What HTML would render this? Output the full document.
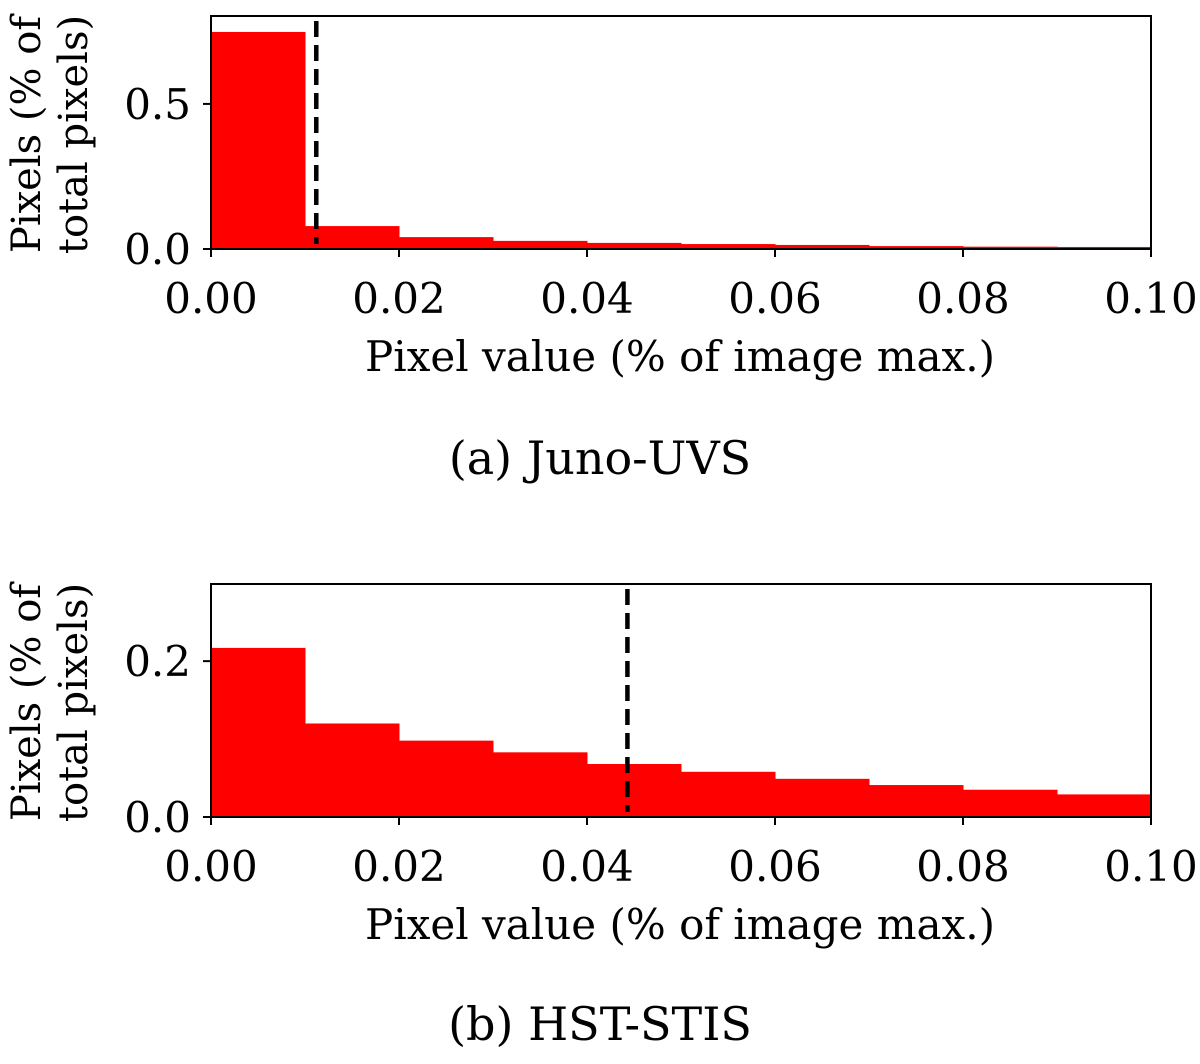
<!DOCTYPE html>
<html><head><meta charset="utf-8"><style>
body{margin:0;background:#fff}
svg text{font-family:"DejaVu Serif","Liberation Serif",serif;fill:#000}
</style></head><body>
<svg id="s" width="1200" height="1059" viewBox="0 0 1200 1059" xmlns="http://www.w3.org/2000/svg"></svg>
<script>
const binEdges=[0,0.01,0.02,0.03,0.04,0.05,0.06,0.07,0.08,0.09,0.1];
const junoValues=[0.748,0.079,0.041,0.028,0.021,0.017,0.014,0.010,0.008,0.007];
const hstValues=[0.217,0.120,0.098,0.083,0.068,0.058,0.049,0.041,0.035,0.029];
const junoThreshold=0.0112;
const hstThreshold=0.0443;
const xTicks=[0,0.02,0.04,0.06,0.08,0.1];
const xTickLabels=["0.00","0.02","0.04","0.06","0.08","0.10"];
const junoYTicks=[0,0.5];const junoYLabels=["0.0","0.5"];
const hstYTicks=[0,0.2];const hstYLabels=["0.0","0.2"];
const NS="http://www.w3.org/2000/svg";
const svg=document.getElementById('s');
function mk(t,a,p){const e=document.createElementNS(NS,t);for(const k in a)e.setAttribute(k,a[k]);(p||svg).appendChild(e);return e;}
function panel(name,top,yMax,vals,thr,yt,yl,caption,capY){
  const L=211,R=1151,T=top,B=top+233;
  const g=mk('g',{});
  
  
  const sx=v=>L+(v-0)/0.1*(R-L);
  const sy=v=>B-v/yMax*(B-T);
  vals.forEach((v,i)=>{
    const r=mk('rect',{x:sx(binEdges[i]),y:sy(v),width:sx(binEdges[i+1])-sx(binEdges[i])+0.5,height:B-sy(v),fill:'#ff0000'},g);
    
    
  });
  const d=mk('line',{x1:sx(thr),x2:sx(thr),y1:T+5,y2:B-5,stroke:'#000','stroke-width':4.5,'stroke-dasharray':'16,8'},g);
  
  
  const f=mk('rect',{x:L,y:T,width:R-L,height:B-T,fill:'none',stroke:'#000','stroke-width':2},g);
  
  
  xTicks.forEach((v,i)=>{
    mk('line',{x1:sx(v),x2:sx(v),y1:B,y2:B+8,stroke:'#000','stroke-width':2},g);
    const t=mk('text',{x:sx(v),y:B+64,'font-size':42,'text-anchor':'middle'},g);
    t.textContent=xTickLabels[i];
    
    
  });
  yt.forEach((v,i)=>{
    mk('line',{x1:L-8,x2:L,y1:sy(v),y2:sy(v),stroke:'#000','stroke-width':2},g);
    const t=mk('text',{x:L-20,y:sy(v)+15,'font-size':42,'text-anchor':'end'},g);
    t.textContent=yl[i];
    
    
  });
  const xl=mk('text',{x:680,y:B+122,'font-size':42,'text-anchor':'middle'},g);
  xl.textContent='Pixel value (% of image max.)';
  
  
  const cy=(T+B)/2+2;
  const y1=mk('text',{x:0,y:0,'font-size':40,'text-anchor':'middle',transform:`translate(40,${cy}) rotate(-90)`},g);
  y1.textContent='Pixels (% of';
  
  
  const y2=mk('text',{x:0,y:0,'font-size':40,'text-anchor':'middle',transform:`translate(87,${cy}) rotate(-90)`},g);
  y2.textContent='total pixels)';
  
  
  const c=mk('text',{x:600,y:capY,'font-size':46,'text-anchor':'middle'},g);
  c.textContent=caption;
  
  
}
panel('juno',16,0.803,junoValues,junoThreshold,junoYTicks,junoYLabels,'(a) Juno-UVS',474);
panel('hst',584,0.299,hstValues,hstThreshold,hstYTicks,hstYLabels,'(b) HST-STIS',1040);
</script>
</body></html>
